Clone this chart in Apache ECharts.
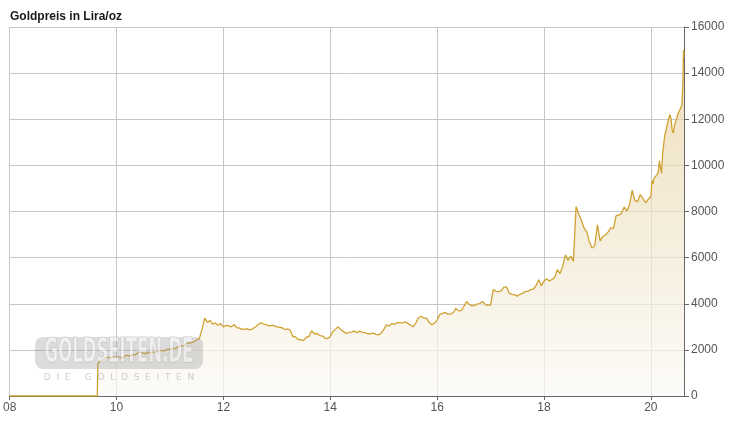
<!DOCTYPE html>
<html><head><meta charset="utf-8">
<script src="https://cdn.jsdelivr.net/npm/echarts@6/dist/echarts.min.js"></script>
<style>html,body{margin:0;padding:0;background:#fff}#c{width:740px;height:428px}</style>
</head><body><div id="c"></div>
<script>
// x-axis tick labels (years), y-axis ticks
const xTickYears = [2008, 2010, 2012, 2014, 2016, 2018, 2020];
const yTicks = [0, 2000, 4000, 6000, 8000, 10000, 12000, 14000, 16000];

// price before the series starts (flat at zero)
const flatStart = [[2008.0, 0], [2009.64, 0]];
// prices, Lira/oz; yearly arrays sampled every 0.05 year
const p2009 = [1400, 1540, 1570, 1660, 1690, 1650, 1700]; // from 2009.65
const p2010 = [1670, 1700, 1630, 1720, 1770, 1730, 1790, 1780, 1880, 1900, 1860, 1840, 1890, 1870, 1900, 1920, 1980, 1970, 1960, 2030];
const p2011 = [2020, 2060, 2050, 2140, 2190, 2160, 2260, 2290, 2310, 2350, 2430, 2500, 2900, 3380, 3190, 3280, 3110, 3170, 3070, 3140];
const p2012 = [2990, 3060, 3040, 3000, 3090, 2970, 2940, 2890, 2900, 2910, 2860, 2920, 2990, 3100, 3180, 3120, 3090, 3040, 3060, 3050];
const p2013 = [3000, 2980, 2960, 2880, 2910, 2850, 2580, 2560, 2450, 2440, 2400, 2550, 2580, 2830, 2700, 2710, 2620, 2610, 2510, 2490];
const p2014 = [2580, 2790, 2900, 3000, 2870, 2790, 2710, 2760, 2770, 2820, 2750, 2810, 2760, 2750, 2700, 2690, 2730, 2670, 2650, 2720];
const p2015 = [2880, 3090, 3030, 3140, 3110, 3180, 3180, 3160, 3220, 3150, 3080, 3000, 3160, 3390, 3460, 3380, 3380, 3190, 3090, 3160];
const p2016 = [3280, 3540, 3580, 3630, 3540, 3560, 3610, 3800, 3690, 3700, 3880, 4100, 3980, 3910, 3920, 3990, 4010, 4100, 3970, 3930];
const p2017 = [3940, 4620, 4540, 4530, 4570, 4720, 4730, 4460, 4410, 4390, 4330, 4410, 4450, 4530, 4550, 4610, 4630, 4780, 5040, 4770];
const p2018 = [4980, 5080, 4990, 5050, 5140, 5480, 5310, 5620, 6120, 5880, 6070, 5830, 8220, 7880, 7620, 7280, 7120, 6680, 6420, 6520];
const p2019 = [7420, 6730, 6920, 6980, 7120, 7290, 7270, 7820, 7840, 7920, 8190, 8020, 8280, 8920, 8480, 8420, 8730, 8570, 8380, 8520];
// 2020 sampled every 0.02 year
const p2020 = [8650, 9350, 9200, 9450, 9400, 9550, 9500, 9700, 10200, 9900, 9650, 10500, 10900, 11300, 11500, 11700, 11900, 12100, 12200, 11950, 11500, 11400, 11700, 11900, 12000, 12200, 12300, 12350, 12500, 12600, 13600];
const tail2020 = [[2020.605, 14300], [2020.612, 15000], [2020.62, 14700]];

const segments = [
  { start: 2009.65, step: 0.05, values: p2009 },
  { start: 2010, step: 0.05, values: p2010 },
  { start: 2011, step: 0.05, values: p2011 },
  { start: 2012, step: 0.05, values: p2012 },
  { start: 2013, step: 0.05, values: p2013 },
  { start: 2014, step: 0.05, values: p2014 },
  { start: 2015, step: 0.05, values: p2015 },
  { start: 2016, step: 0.05, values: p2016 },
  { start: 2017, step: 0.05, values: p2017 },
  { start: 2018, step: 0.05, values: p2018 },
  { start: 2019, step: 0.05, values: p2019 },
  { start: 2020, step: 0.02, values: p2020 }
];
const data = flatStart.slice();
segments.forEach(s => s.values.forEach((v, i) => data.push([+(s.start + i * s.step).toFixed(3), v])));
tail2020.forEach(d => data.push(d));

const chart = echarts.init(document.getElementById('c'), null, { renderer: 'canvas' });
const font = 'Arial, "Liberation Sans", sans-serif';
chart.setOption({
  animation: false,
  title: {
    text: 'Goldpreis in Lira/oz', left: 5, top: 6,
    textStyle: { fontFamily: font, fontSize: 12, fontWeight: 'bold', color: '#1a1a1a' }
  },
  grid: { left: 9, right: 56, top: 27, bottom: 32, containLabel: false },
  xAxis: {
    type: 'value', min: 2008, max: 2020.62, interval: 2,
    axisLine: { show: true, lineStyle: { color: '#666', width: 1 } },
    axisTick: { show: true, length: 4, lineStyle: { color: '#666' } },
    axisLabel: {
      color: '#555', fontSize: 12, fontFamily: font, margin: 6, showMaxLabel: false,
      formatter: v => xTickYears.includes(v) ? String(v).slice(2) : ''
    },
    splitLine: { show: true, lineStyle: { color: '#c6c6c6', width: 1 } }
  },
  yAxis: {
    type: 'value', position: 'right', min: yTicks[0], max: yTicks[yTicks.length - 1], interval: 2000,
    axisLine: { show: true, lineStyle: { color: '#666', width: 1 } },
    axisTick: { show: true, length: 5, lineStyle: { color: '#666' } },
    axisLabel: { color: '#555', fontSize: 12, fontFamily: font, margin: 7, formatter: v => String(v) },
    splitLine: { show: true, lineStyle: { color: '#c6c6c6', width: 1 } }
  },
  series: [{
    type: 'line', data: data, showSymbol: false, symbol: 'none',
    lineStyle: { color: '#d0a232', width: 1.3 },
    areaStyle: {
      color: { type: 'linear', x: 0, y: 0, x2: 0, y2: 1,
        colorStops: [{ offset: 0, color: '#e6d1a0' }, { offset: 1, color: '#fbf9f5' }] }
    },
    z: 2
  }],
  graphic: [
    { type: 'rect', z: 100, shape: { x: 35, y: 337, width: 168, height: 32, r: 8 },
      style: { fill: 'rgba(140,140,140,0.3)' } },
    { type: 'text', z: 101, x: 119, y: 353, scaleX: 0.54,
      style: { text: 'GOLDSEITEN.DE', font: 'bold 34px "DejaVu Sans Condensed", "DejaVu Sans"',
        fill: 'rgba(255,255,255,0.55)', stroke: 'rgba(150,150,150,0.45)', lineWidth: 1,
        textAlign: 'center', textVerticalAlign: 'middle' } },
    { type: 'text', z: 101, x: 119, y: 378,
      style: { text: 'D  I  E     G  O  L  D  S  E  I  T  E  N', font: '9px "DejaVu Sans"',
        fill: 'rgba(175,175,175,0.6)', textAlign: 'center', textVerticalAlign: 'middle' } }
  ]
});
</script></body></html>
